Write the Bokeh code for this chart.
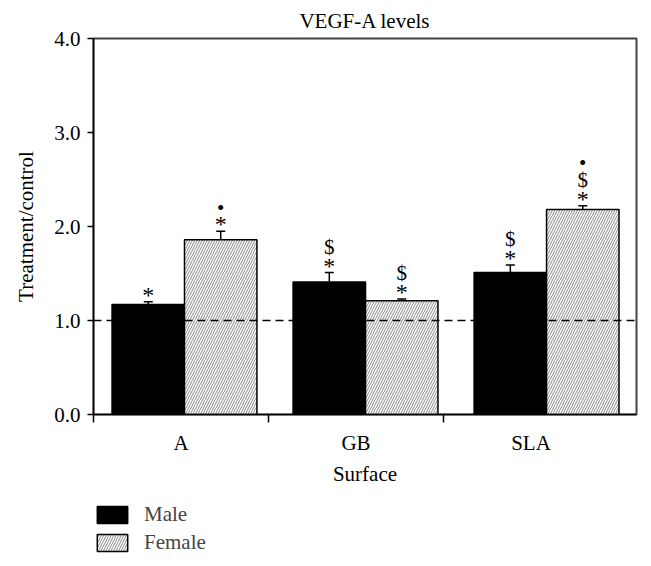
from bokeh.plotting import figure
from bokeh.layouts import column
from bokeh.models import (ColumnDataSource, Range1d, FixedTicker, Span, Legend, LegendItem,
                          Whisker, NumeralTickFormatter)
from bokeh.embed import file_html
from bokeh.resources import INLINE

# ---- data ----
surfaces = ["A", "GB", "SLA"]
male = [1.17, 1.41, 1.51]
male_err = [0.03, 0.10, 0.08]
female = [1.86, 1.21, 2.18]
female_err = [0.09, 0.02, 0.04]
male_marks = [["*"], ["*", "$"], ["*", "$"]]
female_marks = [["*", "\u2022"], ["*", "$"], ["*", "$", "\u2022"]]
y_ticks = [0, 1, 2, 3, 4]
control_level = 1.0
series_names = ["Male", "Female"]

FONT = "Liberation Serif"
FS = "21px"

group_step = 1.0345
group_start = 0.52
bar_w = 0.414

MALE_STYLE = dict(fill_color="black", line_color="black", line_width=1.5)
FEMALE_STYLE = dict(fill_color="white", line_color="black", line_width=1.5,
                    hatch_pattern="right_diagonal_line", hatch_color="#7a7a7a",
                    hatch_scale=5, hatch_weight=0.9)

xm = [group_start + i * group_step - bar_w / 2 for i in range(len(surfaces))]
xf = [group_start + i * group_step + bar_w / 2 for i in range(len(surfaces))]

p = figure(width=645, height=500, output_backend="svg", toolbar_location=None,
           x_range=Range1d(0, 3.103), y_range=Range1d(0, 4),
           min_border_left=93, min_border_right=9, min_border_top=38, min_border_bottom=86)
p.title.text = "VEGF-A levels"
p.title.align = "center"
p.title.text_font = FONT
p.title.text_font_size = FS
p.title.text_font_style = "normal"
p.title.text_color = "black"
p.title.standoff = 11

p.grid.visible = False
p.outline_line_color = "#444444"
p.outline_line_width = 2

src_m = ColumnDataSource(dict(x=xm, top=male, up=[v + e for v, e in zip(male, male_err)],
                              lo=[v - e for v, e in zip(male, male_err)]))
src_f = ColumnDataSource(dict(x=xf, top=female, up=[v + e for v, e in zip(female, female_err)],
                              lo=[v - e for v, e in zip(female, female_err)]))

p.vbar(x="x", top="top", width=bar_w, source=src_m, **MALE_STYLE)
p.vbar(x="x", top="top", width=bar_w, source=src_f, **FEMALE_STYLE)

for s in (src_m, src_f):
    w = Whisker(base="x", upper="up", lower="lo", source=s, line_color="black", line_width=1.5)
    for h in (w.upper_head, w.lower_head):
        h.size = 9
        h.line_color = "black"
        h.line_width = 1.5
    p.add_layout(w)

p.add_layout(Span(location=control_level, dimension="width", line_color="black",
                  line_dash="8 5", line_width=1.5))

# significance marks, stacked above the error bars
first_gap = {"*": -7, "$": -24, "\u2022": -16}
next_gap = {("*", "$"): -19, ("*", "\u2022"): -16, ("$", "\u2022"): -17}
mark_size = {"*": "24px", "$": "21px", "\u2022": "21px"}
for xs, vals, errs, marks in ((xm, male, male_err, male_marks), (xf, female, female_err, female_marks)):
    for x, v, e, ms in zip(xs, vals, errs, marks):
        off = 0
        prev = None
        for m in ms:
            off = first_gap[m] if prev is None else off + next_gap[(prev, m)]
            p.text(x=[x], y=[v + e], text=[m], y_offset=off, text_align="center",
                   text_baseline="middle", text_font_size=mark_size[m],
                   text_font={"value": FONT}, text_color="black")
            prev = m

# axes
yax = p.yaxis[0]
yax.ticker = FixedTicker(ticks=y_ticks, minor_ticks=[])
yax.formatter = NumeralTickFormatter(format="0.0")
yax.axis_label = "Treatment/control"
yax.major_tick_out = 6
yax.major_tick_in = 0
yax.minor_tick_out = 0
yax.minor_tick_in = 0
yax.major_label_standoff = 7
yax.axis_label_standoff = 13

xax = p.xaxis[0]
xax.ticker = FixedTicker(ticks=[i + 0.5 for i in range(len(surfaces))],
                         minor_ticks=[float(i) for i in range(len(surfaces))])
xax.major_label_overrides = {i + 0.5: s for i, s in enumerate(surfaces)}
xax.axis_label = "Surface"
xax.major_tick_out = 0
xax.major_tick_in = 0
xax.minor_tick_out = 8
xax.minor_tick_in = 0
xax.major_label_standoff = 8
xax.axis_label_standoff = 4

for ax in (xax, yax):
    ax.axis_line_color = "black"
    ax.axis_line_width = 1.5
    ax.major_tick_line_color = "black"
    ax.major_tick_line_width = 1.5
    ax.minor_tick_line_color = "black"
    ax.minor_tick_line_width = 1.5
    ax.major_label_text_font = FONT
    ax.major_label_text_font_size = FS
    ax.major_label_text_color = "black"
    ax.axis_label_text_font = FONT
    ax.axis_label_text_font_size = FS
    ax.axis_label_text_font_style = "normal"
    ax.axis_label_text_color = "black"

# legend strip below the chart (its frame is aligned with the chart frame);
# the legend's proxy glyphs are tiny and sit under the opaque legend box
pl = figure(width=645, height=60, output_backend="svg", toolbar_location=None,
            x_range=Range1d(0, 1), y_range=Range1d(0, 1), x_axis_type=None, y_axis_type=None,
            min_border=0)
pl.grid.visible = False
pl.outline_line_color = None
lm = pl.vbar(x=[0.15], bottom=[0.45], top=[0.47], width=0.002, **MALE_STYLE)
lf = pl.vbar(x=[0.15], bottom=[0.45], top=[0.47], width=0.002, **FEMALE_STYLE)
legend = Legend(items=[LegendItem(label=series_names[0], renderers=[lm]),
                       LegendItem(label=series_names[1], renderers=[lf])],
                location=(0, 5), orientation="vertical",
                glyph_width=38, glyph_height=21, spacing=3, label_standoff=13,
                padding=0, margin=0, border_line_color=None,
                background_fill_color="white", background_fill_alpha=1,
                label_text_font=FONT, label_text_font_size=FS, label_height=21)
pl.add_layout(legend, "center")

layout = column(p, pl, spacing=0)
open("out.html", "w").write(file_html(layout, INLINE))
